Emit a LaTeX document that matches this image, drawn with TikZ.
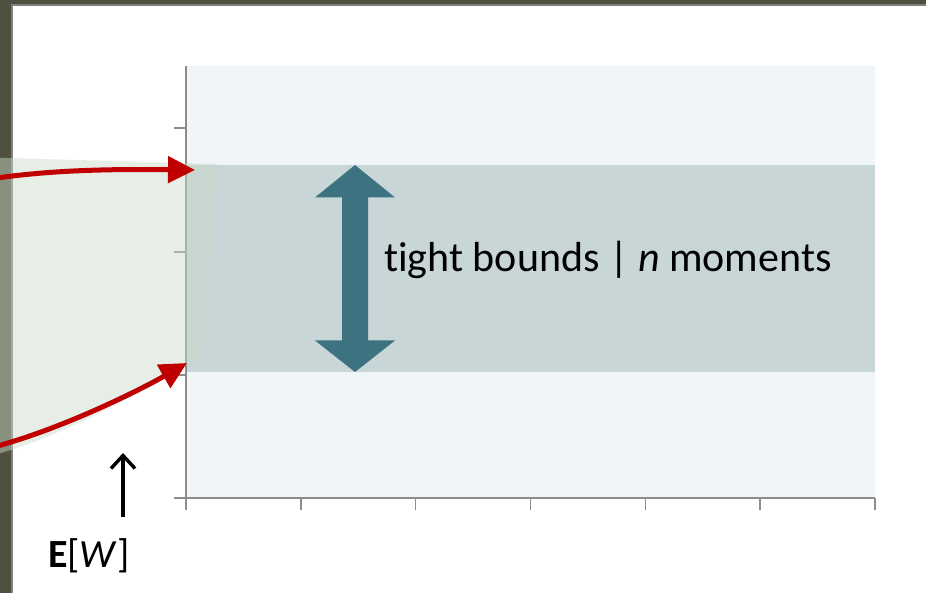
\documentclass[tikz,border=0pt]{standalone}
\usepackage{fontspec}
\setmainfont{Carlito}[Ligatures=NoCommon]
\usepackage{tikz}
\usetikzlibrary{arrows.meta}

\definecolor{framedark}{RGB}{79,80,64}
\definecolor{framegray}{RGB}{128,128,128}
\definecolor{plotbg}{RGB}{240,245,248}
\definecolor{bandfill}{RGB}{200,214,216}
\definecolor{axisgray}{RGB}{140,140,140}
\definecolor{teal}{RGB}{61,114,128}
\definecolor{darkred}{RGB}{192,0,0}
\definecolor{conegreen}{RGB}{202,219,202}

\begin{document}
\begin{tikzpicture}[
  x=1pt, y=-1pt,
  axis/.style={draw=axisgray, line width=1.5pt},
  redarrow/.style={-{Triangle[length=27pt,width=26pt]}, draw=darkred, line width=5pt},
  blackarrow/.style={-{Straight Barb[length=13pt,width=24pt]}, line width=3.4pt},
  lbl/.style={inner sep=0pt, font=\fontsize{42}{50}\selectfont},
  ewlbl/.style={inner sep=0pt, font=\fontsize{40}{46}\selectfont}
]
\useasboundingbox (0,0) rectangle (926,593);
\clip (0,0) rectangle (926,593);

% Frame of the slide
\fill[framedark] (0,0) rectangle (926,4);
\fill[framedark] (0,0) rectangle (11,593);
\fill[framegray] (11,4) rectangle (926,6);
\fill[framegray] (11,4) rectangle (13,593);

% Plot area and band
\fill[plotbg]   (186,66)  rectangle (875,498);
\fill[bandfill] (186,165) rectangle (875,372);

% Axes
\draw[axis] (186,66) -- (186,498);
\draw[axis] (174,498) -- (875,498);
\foreach \ty in {128,252,375,498}
  \draw[axis] (174,\ty) -- (186,\ty);
\foreach \k in {0,...,6}
  \draw[axis] (186+114.83*\k,498) -- (186+114.83*\k,510);

% Cone from the left (transparent)
\fill[conegreen, fill opacity=0.47]
  (-10,157.5) -- (217,164) -- (204,352)
  .. controls (203,358) and (196,361) .. (188,364)
  .. controls (140,393) and (60,438) .. (-10,456) -- cycle;

% Double arrow
\coordinate (tp) at (355,165);
\coordinate (bt) at (355,372);
\fill[teal] (tp) -- (395,197.5) -- (368,197.5) -- (368,340.5) -- (395,340.5)
  -- (bt) -- (315,340.5) -- (342,340.5) -- (342,197.5) -- (315,197.5) -- cycle;

% Labels
\node[lbl, anchor=base west] (bounds) at (384,271.5) {tight bounds | \textit{n} moments};
\node[ewlbl, anchor=base west] (ew) at (48,567) {\textbf{E}[\textit{W}]};

% Arrows
\coordinate (upstart) at (-10,179);
\coordinate (uptip)   at (195,170);
\coordinate (lostart) at (-10,448);
\coordinate (lotip)   at (187,363);
\draw[redarrow] (upstart) .. controls (50,170) and (110,169) .. (uptip);
\draw[redarrow] (lostart) .. controls (60,430) and (140,390) .. (lotip);

\coordinate (ewtip) at (123,453);
\draw[blackarrow] (123,517) -- (ewtip);

\end{tikzpicture}
\end{document}
